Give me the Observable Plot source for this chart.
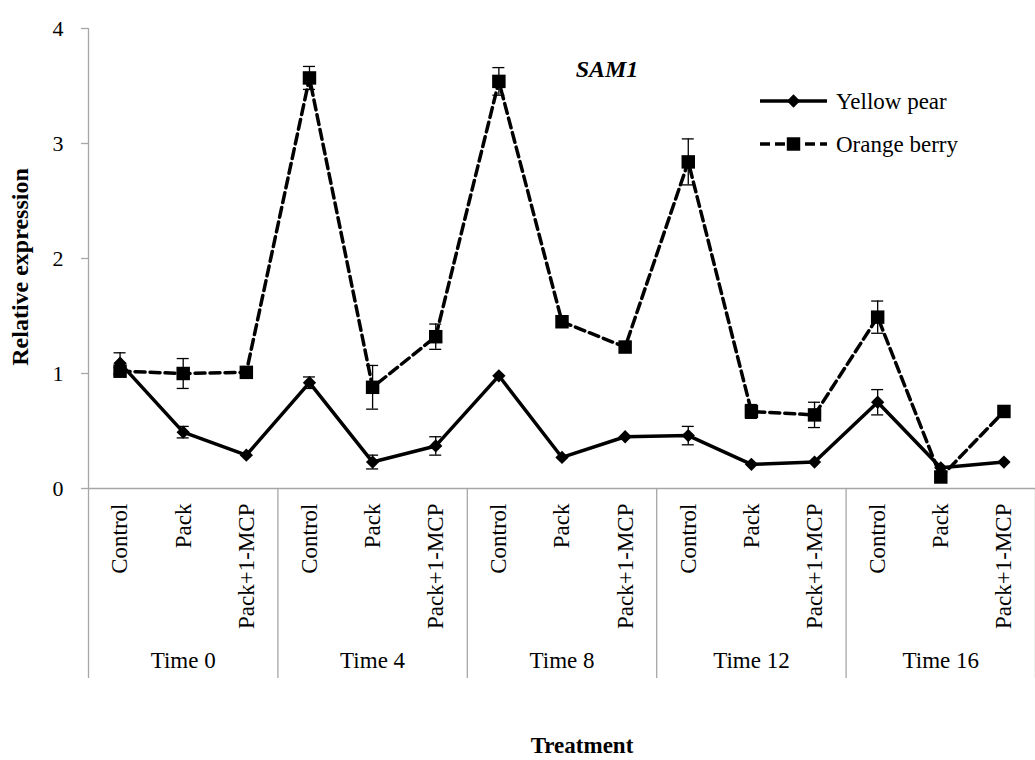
<!DOCTYPE html>
<html><head><meta charset="utf-8">
<script src="https://cdn.jsdelivr.net/npm/d3@7"></script>
<script src="https://cdn.jsdelivr.net/npm/@observablehq/plot@0.6"></script>
<style>
body{margin:0;background:#fff;}
#wrap{position:relative;width:1035px;height:760px;}
#wrap svg{display:block;}
#wrap svg text{font-family:'Liberation Serif','Times New Roman',serif;}
#overlay{position:absolute;left:0;top:0;pointer-events:none;}
</style></head><body><div id="wrap"></div>
<script>
const times = ["Time 0", "Time 4", "Time 8", "Time 12", "Time 16"];
const treatments = ["Control", "Pack", "Pack+1-MCP"];
const yellowPear =    [1.09, 0.49, 0.29, 0.92, 0.23, 0.37, 0.98, 0.27, 0.45, 0.46, 0.21, 0.23, 0.75, 0.18, 0.23];
const yellowPearErr = [0.09, 0.05, 0,    0.05, 0.06, 0.08, 0,    0,    0,    0.08, 0,    0,    0.11, 0,    0];
const orangeBerry =    [1.02, 1.00, 1.01, 3.57, 0.88, 1.32, 3.54, 1.45, 1.23, 2.84, 0.67, 0.64, 1.49, 0.10, 0.67];
const orangeBerryErr = [0.03, 0.13, 0,    0.10, 0.19, 0.11, 0.12, 0,    0,    0.20, 0.06, 0.11, 0.14, 0,    0];
const yTicks = [0, 1, 2, 3, 4];
const seriesNames = ["Yellow pear", "Orange berry"];
const geneName = "SAM1";
const yLabel = "Relative expression";
const xLabel = "Treatment";

const FONT = "'Liberation Serif', 'Times New Roman', serif";
const GRAY = "#a6a6a6";

const rows = [];
times.forEach((t, g) => treatments.forEach((tr, k) => rows.push({i: g * 3 + k, time: t, treatment: tr})));
const yp = rows.map(r => ({...r, v: yellowPear[r.i], e: yellowPearErr[r.i]}));
const ob = rows.map(r => ({...r, v: orangeBerry[r.i], e: orangeBerryErr[r.i]}));
const n = rows.length;
const boundaries = d3.range(times.length + 1).map(g => g * treatments.length - 0.5);
const groupCenters = times.map((t, g) => g * treatments.length + (treatments.length - 1) / 2);

function errMarks(data) {
  const d = data.filter(r => r.e > 0);
  return [
    Plot.ruleX(d, {x: "i", y1: r => r.v - r.e, y2: r => r.v + r.e, stroke: "#000", strokeWidth: 1.3}),
    Plot.ruleY(d, {x1: "i", x2: "i", y: r => r.v + r.e, insetLeft: -6, insetRight: -6, stroke: "#000", strokeWidth: 1.3}),
    Plot.ruleY(d, {x1: "i", x2: "i", y: r => r.v - r.e, insetLeft: -6, insetRight: -6, stroke: "#000", strokeWidth: 1.3})
  ];
}

const chart = Plot.plot({
  width: 1035,
  height: 760,
  marginLeft: 88,
  marginRight: 0,
  marginTop: 28,
  marginBottom: 272,
  style: {fontFamily: FONT, color: "#000", background: "#fff"},
  x: {domain: [-0.5, n - 0.5]},
  y: {domain: [0, 4]},
  marks: [
    Plot.ruleX([-0.5], {stroke: GRAY, strokeWidth: 1.3}),
    Plot.ruleY([0], {stroke: GRAY, strokeWidth: 1.3}),
    Plot.axisY(yTicks, {tickSize: 7, tickPadding: 18, tickFormat: d3.format("d"), fontSize: 22, stroke: GRAY, strokeWidth: 1.3, label: null}),
    Plot.axisX(boundaries, {tickSize: 190, tickFormat: () => "", stroke: GRAY, strokeWidth: 1.3, label: null}),
    Plot.axisX(d3.range(n), {tickSize: 0, tickPadding: 15, tickRotate: -90, tickFormat: i => treatments[i % treatments.length], fontSize: 23, label: null}),
    Plot.axisX(groupCenters, {tickSize: 0, tickPadding: 163, tickFormat: i => times[Math.round((i - 1) / 3)], fontSize: 23, label: null}),
    Plot.line(ob, {x: "i", y: "v", stroke: "#000", strokeWidth: 3.5, strokeDasharray: "10,5"}),
    Plot.line(yp, {x: "i", y: "v", stroke: "#000", strokeWidth: 3.5}),
    ...errMarks(ob),
    ...errMarks(yp),
    Plot.dot(ob, {x: "i", y: "v", symbol: "square", r: 7.6, fill: "#000"}),
    Plot.dot(yp, {x: "i", y: "v", symbol: "diamond2", r: 6.0, fill: "#000"})
  ]
});

const wrap = document.getElementById("wrap");
wrap.appendChild(chart);

// overlay: titles and legend
const ov = d3.select(wrap).append("svg").attr("id", "overlay")
  .attr("width", 1035).attr("height", 760)
  .attr("font-family", FONT);

ov.append("text").attr("x", 607).attr("y", 77).attr("text-anchor", "middle")
  .attr("font-size", 24).attr("font-weight", "bold").attr("font-style", "italic").text(geneName);
ov.append("text").attr("transform", "translate(28,267) rotate(-90)").attr("text-anchor", "middle")
  .attr("font-size", 24).attr("font-weight", "bold").text(yLabel);
ov.append("text").attr("x", 582).attr("y", 753).attr("text-anchor", "middle")
  .attr("font-size", 23).attr("font-weight", "bold").text(xLabel);

const legendRows = [
  {name: seriesNames[0], dash: null, sym: d3.symbolDiamond2, size: 6.0 * 6.0 * Math.PI, y: 101},
  {name: seriesNames[1], dash: "10,5", sym: d3.symbolSquare, size: 7.6 * 7.6 * Math.PI, y: 144}
];
for (const L of legendRows) {
  const g = ov.append("g");
  g.append("line").attr("x1", 760).attr("x2", 827).attr("y1", L.y).attr("y2", L.y)
    .attr("stroke", "#000").attr("stroke-width", 3.5).attr("stroke-dasharray", L.dash);
  g.append("path").attr("transform", `translate(793.5,${L.y})`).attr("d", d3.symbol(L.sym, L.size)()).attr("fill", "#000");
  g.append("text").attr("x", 836).attr("y", L.y + 7.5).attr("font-size", 23).text(L.name);
}
</script></body></html>
